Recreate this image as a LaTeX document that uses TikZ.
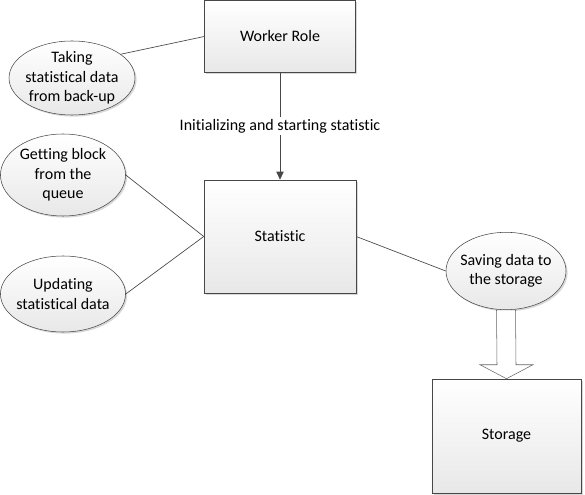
\documentclass[tikz,border=0pt]{standalone}
\usepackage{fontspec}
\setmainfont{Carlito}[Ligatures=NoCommon]
\usetikzlibrary{shapes.geometric,shadows,calc,arrows.meta}

\begin{document}
\begin{tikzpicture}[x=0.75pt,y=-0.75pt]
  \tikzset{every node/.style={font=\fontsize{12}{14.6}\selectfont,align=center},
    shade/.style={draw=black!72,top color=white,bottom color=black!9,
      drop shadow={shadow xshift=1.2pt,shadow yshift=-1.2pt,fill=black!30,opacity=.5}},
    box/.style={shade,rectangle,inner sep=0pt},
    oval/.style={shade,ellipse,inner sep=-7pt},
    link/.style={draw=black!72,line width=.5pt}}
  \useasboundingbox (0,0) rectangle (585,495);
  \node[box,minimum width=113.3pt,minimum height=54pt] (wr) at (280,36.5) {Worker Role};
  \node[box,minimum width=114pt,minimum height=84.8pt] (stat) at (280,236.5) {Statistic};
  \node[box,minimum width=111.8pt,minimum height=85.5pt] (stor) at (506.5,436) {Storage};
  \node[oval,minimum width=94.5pt,minimum height=55.5pt] (e1) at (72,78) {Taking\\statistical data\\from back-up};
  \node[oval,minimum width=93.8pt,minimum height=61.5pt] (e2) at (63,175) {Getting block\\from the\\queue};
  \node[oval,minimum width=93.8pt,minimum height=57pt] (e3) at (63,294) {Updating\\statistical data};
  \node[oval,minimum width=90pt,minimum height=58pt] (e4) at (506,271) {Saving data to\\the storage};
  \draw[link,-{Triangle[width=5.5pt,length=6pt]}] (wr) -- node[fill=white,inner sep=1.5pt] (lbl) {Initializing and starting statistic} (stat);
  \draw[link] (wr.west) -- (e1.26);
  \draw[link] (stat.west) -- (e2.east);
  \draw[link] (stat.west) -- (e3.east);
  \draw[link] (stat.east) -- (e4.west);
  \draw[draw=black!60,fill=white] ($(e4.south)+(-9.5,0)$) -- ($(e4.south)+(9.5,0)$)
    -- ($(stor.north)+(9.5,-14)$) -- ($(stor.north)+(26.5,-14)$) -- (stor.north)
    -- ($(stor.north)+(-26.5,-14)$) -- ($(stor.north)+(-9.5,-14)$) -- cycle;
\end{tikzpicture}
\end{document}
